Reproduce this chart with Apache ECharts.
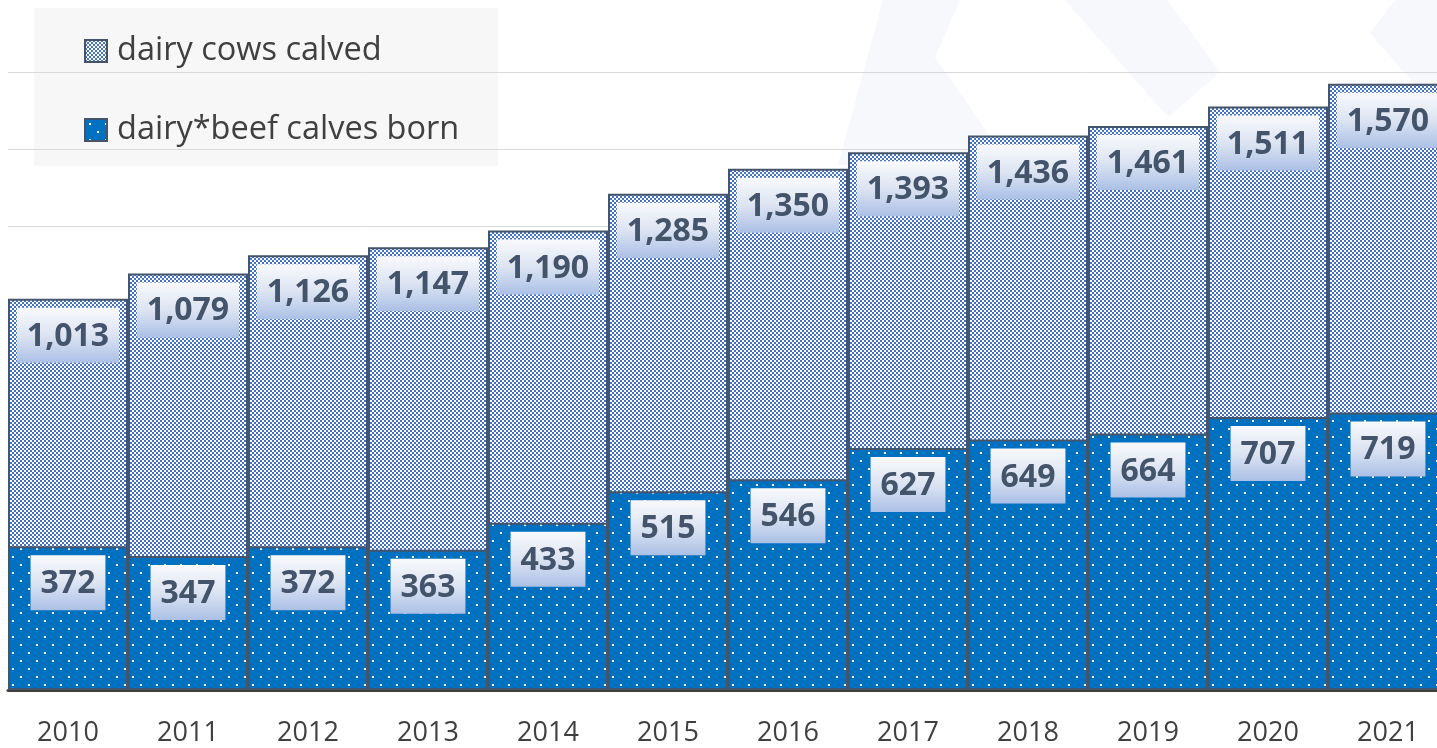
<!DOCTYPE html>
<html>
<head>
<meta charset="utf-8">
<script src="https://cdn.jsdelivr.net/npm/echarts@6/dist/echarts.min.js"></script>
<style>
  html, body { margin: 0; padding: 0; background: #fff; }
  #calves { width: 1437px; height: 748px; }
</style>
</head>
<body>
<div id="calves"></div>
<script>
// years on the x axis
var years = ['2010', '2011', '2012', '2013', '2014', '2015', '2016', '2017', '2018', '2019', '2020', '2021'];
// dairy cows calved (tall bars, drawn behind)
var cowsCalved = [1013, 1079, 1126, 1147, 1190, 1285, 1350, 1393, 1436, 1461, 1511, 1570];
// dairy*beef calves born (front bars)
var beefCalves = [372, 347, 372, 363, 433, 515, 546, 627, 649, 664, 707, 719];

// small fill patterns like the excel ones
function checkerPattern() {
	var c = document.createElement('canvas');
	c.width = 4; c.height = 4;
	var ctx = c.getContext('2d');
	ctx.fillStyle = '#ffffff';
	ctx.fillRect(0, 0, 4, 4);
	ctx.fillStyle = '#4472c4';
	ctx.fillRect(0, 0, 2, 2);
	ctx.fillRect(2, 2, 2, 2);
	return c;
}
function dotPattern() {
	var c = document.createElement('canvas');
	c.width = 16; c.height = 16;
	var ctx = c.getContext('2d');
	ctx.fillStyle = '#0070c0';
	ctx.fillRect(0, 0, 16, 16);
	ctx.fillStyle = '#ffffff';
	ctx.fillRect(4, 4, 2, 2);
	ctx.fillRect(12, 12, 2, 2);
	return c;
}

function withCommas(v) {
	return String(v).replace(/\B(?=(\d{3})+(?!\d))/g, ',');
}

var labelBox = {
	show: true,
	position: 'insideTop',
	distance: 9,
	formatter: function (p) { return withCommas(p.value); },
	fontFamily: 'Open Sans',
	fontWeight: 'bold',
	fontSize: 32,
	lineHeight: 34,
	color: '#44546a',
	padding: [12, 10, 9, 10],
	backgroundColor: {
		type: 'linear', x: 0, y: 0, x2: 0, y2: 1,
		colorStops: [
			{ offset: 0, color: '#f8f9fc' },
			{ offset: 0.5, color: '#dce4f2' },
			{ offset: 1, color: '#abc0e6' }
		]
	}
};

var chart = echarts.init(document.getElementById('calves'));

var wm = '#f6f8fc';

var option = {
	animation: false,
	backgroundColor: '#ffffff',
	// plot runs a little past the right and top edges of the picture
	grid: { left: 8, right: -11, top: -5, bottom: 58, outerBoundsMode: 'none', containLabel: false },
	graphic: [
		// faint watermark shapes behind the chart
		{
			type: 'polygon', z: -20,
			shape: { points: [[883, 0], [960, 0], [935, 57], [1010, 165], [838, 165]] },
			style: { fill: wm }
		},
		{
			type: 'polygon', z: -20,
			shape: { points: [[1065, 0], [1167, 0], [1220, 72], [1168, 117]] },
			style: { fill: wm }
		},
		{
			type: 'polygon', z: -20,
			shape: { points: [[1370, 33], [1395, 0], [1437, 0], [1437, 110]] },
			style: { fill: wm }
		},
		// legend panel
		{
			type: 'rect', z: -10,
			shape: { x: 34, y: 8, width: 464, height: 158 },
			style: { fill: '#f7f7f7' }
		}
	],
	legend: {
		orient: 'vertical',
		left: 79,
		top: 26,
		itemWidth: 22,
		itemHeight: 22,
		itemGap: 39,
		icon: 'rect',
		textStyle: {
			fontFamily: 'Open Sans',
			fontSize: 32.5,
			lineHeight: 40,
			color: '#404040',
			padding: [0, 0, 0, 5]
		},
		data: ['dairy cows calved', 'dairy*beef calves born']
	},
	xAxis: {
		type: 'category',
		data: years,
		axisTick: { show: false },
		axisLine: { lineStyle: { color: '#404040', width: 3 } },
		axisLabel: {
			fontFamily: 'Open Sans',
			fontSize: 27,
			color: '#404040',
			margin: 30
		}
	},
	yAxis: {
		type: 'value',
		min: 0,
		max: 1800,
		interval: 200,
		axisLabel: { show: false },
		axisLine: { show: false },
		axisTick: { show: false },
		splitLine: { lineStyle: { color: '#d9d9d9', width: 1 } }
	},
	series: [
		{
			name: 'dairy cows calved',
			type: 'bar',
			data: cowsCalved,
			barCategoryGap: 0,
			barGap: '-100%',
			itemStyle: {
				color: { image: checkerPattern(), repeat: 'repeat' },
				borderColor: '#44546a',
				borderWidth: 2
			},
			label: labelBox
		},
		{
			name: 'dairy*beef calves born',
			type: 'bar',
			data: beefCalves,
			barCategoryGap: 0,
			barGap: '-100%',
			itemStyle: {
				color: { image: dotPattern(), repeat: 'repeat' },
				borderColor: '#44546a',
				borderWidth: 2
			},
			label: labelBox
		}
	]
};

chart.setOption(option);
</script>
</body>
</html>
